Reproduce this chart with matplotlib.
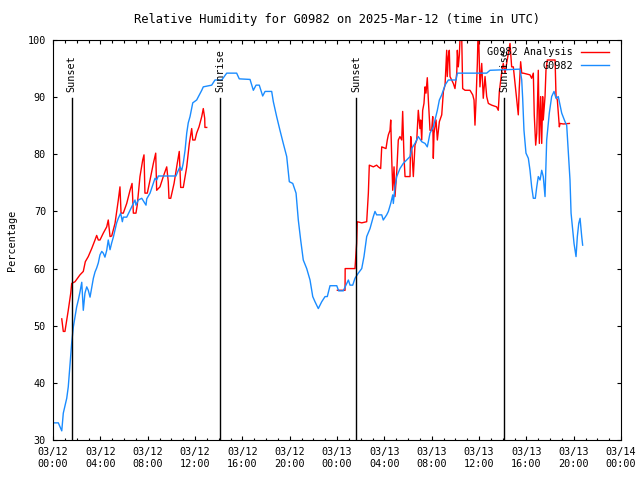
import pandas as pd
import numpy as np
import matplotlib
matplotlib.use('Agg')
import matplotlib.pyplot as plt
import matplotlib.dates as mdates

# hours after 2025-03-12 00:00 UTC and relative humidity values
obs_hours = [0.00, 0.45, 0.74, 0.87, 1.16, 1.29, 1.44, 1.58, 1.72, 1.86, 2.00, 2.14, 2.28, 2.43,
             2.56, 2.70, 2.85, 2.98, 3.13, 3.27, 3.41, 3.55, 3.69, 3.83, 3.97, 4.12, 4.25, 4.39,
             4.54, 4.67, 4.82, 4.96, 5.10, 5.38, 5.52, 5.72, 5.86, 5.94, 6.23, 6.51, 6.79, 6.93,
             7.01, 7.21, 7.50, 7.86, 7.92, 8.20, 8.62, 8.76, 8.90, 10.39, 10.59, 10.73, 10.88,
             11.01, 11.16, 11.30, 11.43, 11.58, 11.81, 12.14, 12.57, 12.70, 13.41, 13.69, 14.26,
             14.68, 15.52, 15.74, 16.65, 16.93, 17.16, 17.43, 17.72, 17.92, 18.48, 18.62, 18.90,
             19.18, 19.46, 19.75, 19.97, 20.26, 20.54, 20.73, 20.93, 21.15, 21.44, 21.72, 21.95,
             22.14, 22.42, 22.71, 22.99, 23.18, 23.41, 23.98, 24.14, 24.53, 24.76, 24.96, 25.10,
             25.33, 25.52, 25.80, 26.09, 26.28, 26.51, 26.79, 27.07, 27.21, 27.35, 27.78, 27.91,
             28.20, 28.34, 28.54, 28.71, 28.76, 28.90, 29.05, 29.32, 29.60, 29.89, 30.17, 30.31,
             30.59, 30.87, 31.16, 31.44, 31.63, 31.72, 31.86, 32.14, 32.28, 32.48, 32.65, 32.85,
             33.13, 33.41, 34.06, 34.17, 36.65, 36.93, 39.47, 39.61, 39.69, 39.80, 39.97, 40.17,
             40.31, 40.45, 40.59, 40.76, 40.88, 41.01, 41.16, 41.30, 41.43, 41.58, 41.72, 41.94,
             42.14, 42.34, 42.51, 42.70, 42.85, 42.99, 43.27, 43.41, 43.55, 43.69, 43.78, 43.92,
             44.03, 44.20, 44.31, 44.43, 44.54, 44.68, 44.76]
obs_rh = [33.0, 33.0, 31.6, 34.7, 37.3, 39.3, 43.4, 47.0, 49.8, 51.5, 53.3, 54.5, 55.9, 57.6,
          52.7, 55.7, 56.8, 56.2, 55.0, 56.6, 58.3, 59.4, 60.1, 61.0, 62.4, 63.0, 62.7, 62.0,
          63.2, 65.0, 63.3, 64.5, 65.5, 68.0, 68.8, 69.7, 68.2, 69.0, 69.0, 70.2, 71.4, 72.0,
          71.1, 72.0, 72.3, 71.1, 72.2, 73.2, 75.8, 75.5, 76.2, 76.2, 77.2, 77.8, 77.2,
          78.5, 80.7, 83.7, 85.5, 86.6, 89.0, 89.5, 91.2, 91.8, 92.1, 93.0, 93.0,
          94.2, 94.2, 93.2, 93.1, 91.2, 92.1, 92.1, 90.2, 91.0, 91.0, 89.2, 86.6,
          84.2, 81.9, 79.6, 75.2, 74.9, 73.2, 68.5, 65.0, 61.5, 60.0, 58.0, 55.1,
          54.2, 53.0, 54.2, 55.1, 55.1, 57.0, 57.0, 56.1, 56.1, 57.1, 58.0, 57.1,
          57.1, 58.3, 59.2, 60.0, 62.1, 65.6, 67.0, 69.1, 70.0, 69.4, 69.4, 68.5,
          69.4, 70.0, 71.4, 72.9, 71.4, 74.3, 76.1, 77.5, 78.4, 79.0, 79.6, 81.0,
          81.9, 83.1, 82.2, 81.9, 81.3, 82.2, 83.7, 84.8, 86.0, 87.7, 89.5, 90.4,
          92.1, 93.0, 93.0, 94.2, 94.2, 94.7, 94.9, 93.0, 89.8, 84.2, 80.2, 79.3,
          77.2, 74.3, 72.3, 72.3, 74.3, 76.1, 75.5, 77.2, 76.1, 72.6, 82.5, 87.2,
          90.1, 91.0, 89.8, 90.1, 88.6, 87.2, 85.7, 85.1, 80.2, 75.5, 69.7, 66.7,
          64.4, 62.1, 65.6, 67.9, 68.8, 65.6, 64.1]

ana1_hours = [0.74, 0.87, 1.01, 1.29, 1.50, 1.58, 1.86, 2.28, 2.56, 2.73, 2.98, 3.27, 3.55, 3.69,
              3.83, 3.97, 4.25, 4.54, 4.67, 4.82, 4.96, 5.24, 5.52, 5.66, 5.75, 5.94, 6.23, 6.51,
              6.68, 6.79, 7.01, 7.12, 7.35, 7.58, 7.69, 7.77, 7.97, 8.20, 8.48, 8.68, 8.76, 9.04,
              9.32, 9.61, 9.74, 9.80, 9.95, 10.23, 10.50, 10.67, 10.79, 11.01, 11.30, 11.52,
              11.72, 11.81, 12.00, 12.14, 12.34, 12.57, 12.70, 12.82, 12.84, 12.99]
ana1_rh = [51.2, 49.0, 49.0, 52.7, 55.7, 57.4, 57.7, 58.9, 59.5, 61.2, 62.1, 63.5, 65.0, 65.8,
           65.0, 65.0, 66.2, 67.3, 68.5, 65.6, 65.7, 67.9, 72.0, 74.3, 69.7, 69.7, 71.4, 73.7,
           74.9, 69.7, 69.7, 71.1, 76.1, 79.0, 79.9, 73.2, 73.2, 75.5, 78.4, 80.2, 73.7, 74.3,
           76.1, 77.8, 75.2, 72.3, 72.3, 74.9, 78.4, 80.5, 74.2, 74.2, 77.8, 81.9,
           84.5, 82.5, 82.5, 83.7, 84.8, 86.6, 88.0, 86.3, 84.7, 84.7]

ana2_hours = [24.03, 24.68, 24.69, 25.52, 25.66, 25.71, 26.09, 26.51, 26.65, 26.73, 27.07, 27.35,
              27.49, 27.69, 27.78, 28.14, 28.25, 28.34, 28.48, 28.54, 28.62, 28.71, 28.82, 28.90,
              29.05, 29.18, 29.32, 29.47, 29.55, 29.66, 29.75, 30.17, 30.23, 30.31, 30.45, 30.59,
              30.74, 30.87, 31.01, 31.07, 31.16, 31.24, 31.35, 31.44, 31.52, 31.63, 31.72, 31.86,
              32.00, 32.09, 32.14, 32.20, 32.28, 32.37, 32.48, 32.65, 32.85, 32.99, 33.13, 33.27,
              33.32, 33.41, 33.49, 33.55, 33.83, 33.97, 34.12, 34.17, 34.25, 34.34, 34.45, 34.54,
              34.62, 34.82, 35.24, 35.47, 35.58, 35.66, 35.75, 35.86, 35.94, 36.03, 36.08, 36.23,
              36.36, 36.51, 36.65, 36.79, 37.07, 37.49, 37.63, 37.72, 37.91, 38.05, 38.20, 38.62,
              38.76, 38.90, 39.32, 39.40, 39.52, 39.61, 39.74, 40.31, 40.45, 40.59, 40.67, 40.79,
              40.88, 41.01, 41.10, 41.21, 41.30, 41.38, 41.43, 41.58, 41.66, 41.77, 42.43, 42.51,
              42.62, 42.79, 42.85, 43.13, 43.64]
ana2_rh = [56.2, 56.2, 60.0, 60.0, 64.4, 68.2, 68.0, 68.2, 73.2, 78.1, 77.8, 78.1,
           77.8, 77.5, 81.3, 81.0, 82.5, 83.4, 84.2, 86.0, 79.6, 73.7, 77.8, 72.6,
           77.0, 82.5, 83.1, 82.5, 87.5, 79.6, 76.1, 76.1, 83.1, 81.3, 76.1, 81.6,
           82.5, 87.7, 84.5, 86.0, 82.5, 87.7, 88.9, 91.8, 90.7, 93.4, 89.5, 84.2,
           84.2, 86.6, 79.3, 83.7, 84.8, 86.0, 82.5, 85.7, 86.9, 91.0, 92.1, 98.2,
           93.6, 97.1, 98.2, 93.6, 92.4, 91.5, 94.2, 98.2, 95.3, 97.4, 103.0, 100.5,
           91.5, 91.2, 91.2, 90.4, 89.5, 85.1, 89.5, 95.9, 103.0, 95.9, 91.8, 95.9,
           89.8, 93.6, 90.1, 88.9, 88.6, 88.3, 87.7, 91.0, 94.2, 95.9, 94.2, 99.4,
           95.3, 95.3, 86.9, 91.5, 96.2, 94.2, 94.2, 93.9, 93.3, 94.2, 86.9, 81.6,
           83.7, 94.7, 81.9, 90.1, 81.9, 90.1, 86.0, 90.1, 94.7, 96.5, 96.5, 90.1,
           89.5, 84.8, 85.4, 85.3, 85.4]

sun_hours = [1.58, 14.14, 25.63, 38.11]
sun_labels = ['Sunset', 'Sunrise', 'Sunset', 'Sunrise']

start = pd.Timestamp('2025-03-12 00:00')
def to_time(h):
    return start + pd.to_timedelta(np.array(h), unit='h')

plt.rcParams['font.family'] = 'DejaVu Sans Mono'
plt.rcParams['font.size'] = 7.3

fig = plt.figure(figsize=(6.4, 4.8), dpi=100)
ax = fig.add_axes([53/640, 40/480, 568/640, 400/480])

ax.plot(to_time(ana1_hours), ana1_rh, color='#ff0000', lw=1.0, label='G0982 Analysis')
ax.plot(to_time(ana2_hours), ana2_rh, color='#ff0000', lw=1.0)
ax.plot(to_time(obs_hours), obs_rh, color='#1a8cff', lw=1.0, label='G0982')

for h, lab in zip(sun_hours, sun_labels):
    t = to_time([h])[0]
    ax.plot([t, t], [30, 89.8], color='black', lw=1.0)
    ax.text(t, 90.9, lab, rotation=90, ha='center', va='bottom')

ax.set_xlim(start, start + pd.Timedelta(hours=48))
ax.set_ylim(30, 100)
ax.set_yticks(range(30, 101, 10))
ax.xaxis.set_major_locator(mdates.HourLocator(byhour=range(0, 24, 4)))
ax.xaxis.set_minor_locator(mdates.HourLocator())
ax.xaxis.set_major_formatter(mdates.DateFormatter('%m/%d\n%H:%M'))
ax.tick_params(which='both', direction='in', top=True, right=True, width=0.8)
ax.tick_params(which='major', length=3.2, pad=5)
ax.tick_params(which='minor', length=1.8)
for s in ax.spines.values():
    s.set_linewidth(0.8)

ax.set_title('Relative Humidity for G0982 on 2025-Mar-12 (time in UTC)', pad=12)
ax.set_ylabel('Percentage', labelpad=8)

ax.legend(loc='upper right', bbox_to_anchor=(0.99, 0.997), markerfirst=False, frameon=False,
          handlelength=2.8, handletextpad=0.8, labelspacing=0.35, borderaxespad=0.2)

plt.savefig('out.png', dpi=100)
